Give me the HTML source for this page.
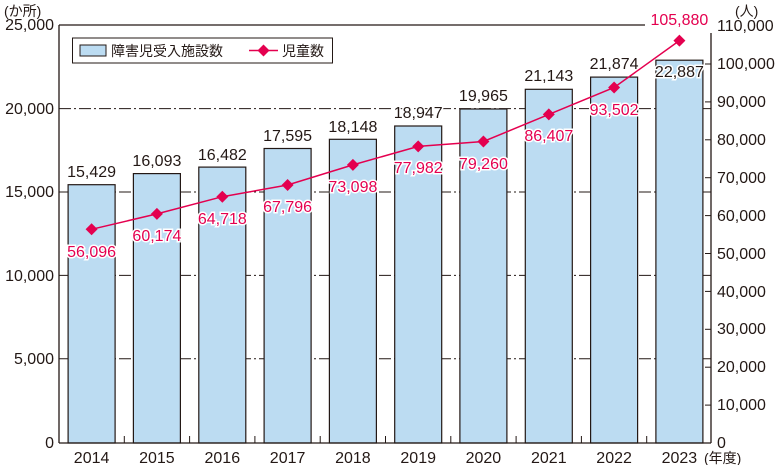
<!DOCTYPE html>
<html><head><meta charset="utf-8"><style>
html,body{margin:0;padding:0;background:#fff;}
svg{display:block;font-family:"Liberation Sans","Noto Sans CJK JP",sans-serif;}
</style></head><body>
<svg width="780" height="465" viewBox="0 0 780 465" xmlns="http://www.w3.org/2000/svg">
<g font-size="16" fill="#231815">
<text x="4" y="16" font-size="14">(か所)</text>
<text x="735" y="16" font-size="14">(人)</text>
<g stroke="#231815" stroke-width="1" stroke-dasharray="12,3,2,3">
<line x1="59" y1="108.6" x2="711" y2="108.6"/>
<line x1="59" y1="192" x2="711" y2="192"/>
<line x1="59" y1="275.4" x2="711" y2="275.4"/>
<line x1="59" y1="358.8" x2="711" y2="358.8"/>
</g>
<line x1="59" y1="25" x2="645" y2="25" stroke="#231815" stroke-width="1.3"/>
<g fill="#bcdcf2" stroke="#231815" stroke-width="1.2">
<rect x="68.1" y="184.7" width="47" height="258.3"/>
<rect x="133.4" y="173.6" width="47" height="269.4"/>
<rect x="198.8" y="167.1" width="47" height="275.9"/>
<rect x="264.1" y="148.5" width="47" height="294.5"/>
<rect x="329.4" y="139.3" width="47" height="303.7"/>
<rect x="394.7" y="126.0" width="47" height="317"/>
<rect x="459.9" y="109.0" width="47" height="334"/>
<rect x="525.3" y="89.3" width="47" height="353.7"/>
<rect x="590.6" y="77.1" width="47" height="365.9"/>
<rect x="655.9" y="60.2" width="47" height="382.8"/>
</g>
<g stroke="#231815" stroke-width="1.3">
<line x1="59" y1="25" x2="59" y2="443"/>
<line x1="711" y1="33" x2="711" y2="443"/>
<line x1="59" y1="443" x2="711" y2="443"/>
</g>
<g stroke="#231815" stroke-width="1">
<line x1="124.3" y1="443" x2="124.3" y2="436"/><line x1="189.6" y1="443" x2="189.6" y2="436"/>
<line x1="254.9" y1="443" x2="254.9" y2="436"/><line x1="320.2" y1="443" x2="320.2" y2="436"/>
<line x1="385.5" y1="443" x2="385.5" y2="436"/><line x1="450.8" y1="443" x2="450.8" y2="436"/>
<line x1="516.1" y1="443" x2="516.1" y2="436"/><line x1="581.4" y1="443" x2="581.4" y2="436"/>
<line x1="646.7" y1="443" x2="646.7" y2="436"/>
<line x1="705" y1="405.1" x2="711" y2="405.1"/><line x1="705" y1="367.2" x2="711" y2="367.2"/>
<line x1="705" y1="329.3" x2="711" y2="329.3"/><line x1="705" y1="291.4" x2="711" y2="291.4"/>
<line x1="705" y1="253.5" x2="711" y2="253.5"/><line x1="705" y1="215.6" x2="711" y2="215.6"/>
<line x1="705" y1="177.7" x2="711" y2="177.7"/><line x1="705" y1="139.8" x2="711" y2="139.8"/>
<line x1="705" y1="101.9" x2="711" y2="101.9"/><line x1="705" y1="64" x2="711" y2="64"/>
</g>
<g text-anchor="end">
<text x="54" y="30">25,000</text><text x="54" y="114">20,000</text>
<text x="54" y="197">15,000</text><text x="54" y="281">10,000</text>
<text x="54" y="364">5,000</text><text x="54" y="448">0</text>
</g>
<g>
<text x="717" y="31">110,000</text><text x="717" y="69">100,000</text>
<text x="717" y="107">90,000</text><text x="717" y="145">80,000</text>
<text x="717" y="183">70,000</text><text x="717" y="221">60,000</text>
<text x="717" y="259">50,000</text><text x="717" y="297">40,000</text>
<text x="717" y="334">30,000</text><text x="717" y="372">20,000</text>
<text x="717" y="410">10,000</text><text x="717" y="448">0</text>
</g>
<g text-anchor="middle">
<text x="91.6" y="463">2014</text><text x="156.9" y="463">2015</text>
<text x="222.3" y="463">2016</text><text x="287.6" y="463">2017</text>
<text x="352.9" y="463">2018</text><text x="418.2" y="463">2019</text>
<text x="483.4" y="463">2020</text><text x="548.8" y="463">2021</text>
<text x="614.1" y="463">2022</text><text x="679.4" y="463">2023</text>
</g>
<text x="704" y="463" font-size="14">(年度)</text>
<g text-anchor="middle" stroke="#fff" stroke-width="3" paint-order="stroke">
<text x="91.6" y="177">15,429</text><text x="156.9" y="166">16,093</text>
<text x="222.3" y="160">16,482</text><text x="287.6" y="141">17,595</text>
<text x="352.9" y="132">18,148</text><text x="418.2" y="118">18,947</text>
<text x="483.4" y="101">19,965</text><text x="548.8" y="81">21,143</text>
<text x="614.1" y="69">21,874</text><text x="679.4" y="77">22,887</text>
</g>
<polyline fill="none" stroke="#e4004f" stroke-width="1.5" points="91.6,229.3 156.9,213.9 222.3,196.7 287.6,185 352.9,164.9 418.2,146.4 483.4,141.5 548.8,114.4 614.1,87.5 679.4,40.6"/>
<g fill="#e4004f">
<path d="M91.6,223.3l6,6l-6,6l-6,-6z"/><path d="M156.9,207.9l6,6l-6,6l-6,-6z"/>
<path d="M222.3,190.7l6,6l-6,6l-6,-6z"/><path d="M287.6,179l6,6l-6,6l-6,-6z"/>
<path d="M352.9,158.9l6,6l-6,6l-6,-6z"/><path d="M418.2,140.4l6,6l-6,6l-6,-6z"/>
<path d="M483.4,135.5l6,6l-6,6l-6,-6z"/><path d="M548.8,108.4l6,6l-6,6l-6,-6z"/>
<path d="M614.1,81.5l6,6l-6,6l-6,-6z"/><path d="M679.4,34.6l6,6l-6,6l-6,-6z"/>
</g>
<g text-anchor="middle" fill="#e4004f" stroke="#fff" stroke-width="3" paint-order="stroke">
<text x="91.6" y="257">56,096</text><text x="156.9" y="241">60,174</text>
<text x="222.3" y="224">64,718</text><text x="287.6" y="212">67,796</text>
<text x="352.9" y="192">73,098</text><text x="418.2" y="173">77,982</text>
<text x="483.4" y="169">79,260</text><text x="548.8" y="141">86,407</text>
<text x="614.1" y="115">93,502</text><text x="679.4" y="25">105,880</text>
</g>
<rect x="72.5" y="38" width="260" height="25" fill="#fff" stroke="#231815" stroke-width="1"/>
<rect x="80" y="45" width="26" height="11" fill="#bcdcf2" stroke="#231815" stroke-width="1"/>
<text x="111" y="56" font-size="14">障害児受入施設数</text>
<line x1="249" y1="50.5" x2="278" y2="50.5" stroke="#e4004f" stroke-width="1.5"/>
<path d="M263.5,44.5l6,6l-6,6l-6,-6z" fill="#e4004f"/>
<text x="282" y="56" font-size="14">児童数</text>
</g>
</svg>
</body></html>
